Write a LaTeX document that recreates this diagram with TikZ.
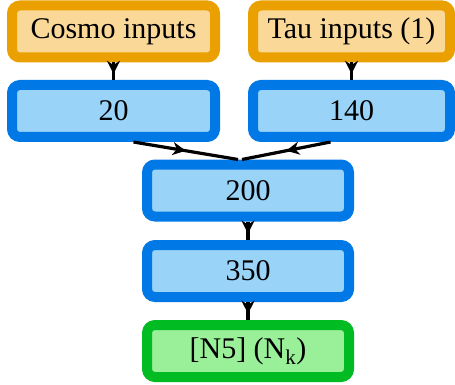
\documentclass[tikz,border=0pt]{standalone}
\usepackage{fontspec}
\setmainfont{Liberation Serif}
\usetikzlibrary{arrows.meta,decorations.markings}
\definecolor{inBorder}{RGB}{234,160,0}
\definecolor{inFill}{RGB}{250,216,152}
\definecolor{hidBorder}{RGB}{0,120,230}
\definecolor{hidFill}{RGB}{153,212,248}
\definecolor{outBorder}{RGB}{0,187,34}
\definecolor{outFill}{RGB}{153,240,153}
\tikzset{
  layerbox/.style={rectangle, rounded corners=8pt, line width=10pt,
    minimum height=52pt, inner sep=0pt,
    font=\fontsize{30}{36}\selectfont},
  inputbox/.style={layerbox, draw=inBorder, fill=inFill},
  hiddenbox/.style={layerbox, draw=hidBorder, fill=hidFill},
  outputbox/.style={layerbox, draw=outBorder, fill=outFill},
  flow/.style={line width=3.2pt, black, postaction={decorate},
    decoration={markings, mark=at position #1 with
      {\arrow{Stealth[length=13pt,width=13pt,inset=4pt]}}}},
  flow/.default=0.65
}
\begin{document}
\begin{tikzpicture}
\useasboundingbox (0,0) rectangle (455pt,-385pt);
% input row
\node[inputbox, minimum width=203pt] (cosmo) at (113.5pt,-31.5pt) {Cosmo inputs};
\node[inputbox, minimum width=197pt] (tau) at (351.5pt,-31.5pt) {Tau inputs (1)};
% first hidden layers
\node[hiddenbox, minimum width=203pt] (h20) at (113.5pt,-111pt) {20};
\node[hiddenbox, minimum width=197pt] (h140) at (351.5pt,-111pt) {140};
% merged layers
\node[hiddenbox, minimum width=202pt] (h200) at (248pt,-190.5pt) {200};
\node[hiddenbox, minimum width=202pt] (h350) at (248pt,-271pt) {350};
\node[outputbox, minimum width=202pt] (out) at (248pt,-351pt) {[N5] (N\textsubscript{k})};
% connectors
\draw[flow] (cosmo) -- (h20);
\draw[flow] (tau) -- (h140);
\draw[flow=0.5] ([xshift=20pt]h20.south) -- ([xshift=-10pt]h200.north);
\draw[flow=0.5] ([xshift=-21pt]h140.south) -- ([xshift=-6pt]h200.north);
\draw[flow] (h200) -- (h350);
\draw[flow] (h350) -- (out);
\end{tikzpicture}
\end{document}
